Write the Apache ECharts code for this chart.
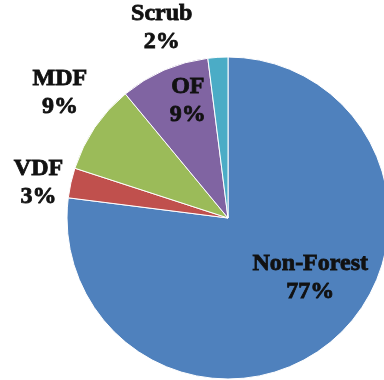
<!DOCTYPE html>
<html>
<head>
<meta charset="utf-8">
<script src="https://cdn.jsdelivr.net/npm/echarts@6/dist/echarts.min.js"></script>
<style>
  html, body { margin: 0; padding: 0; background: #ffffff; }
  #chart { width: 384px; height: 380px; }
</style>
</head>
<body>
<div id="chart"></div>
<script>
// Land cover share (%)
const categories = ['Non-Forest', 'VDF', 'MDF', 'OF', 'Scrub'];
const shares = [77, 3, 9, 9, 2];
const sliceColors = ['#4F81BD', '#C0504D', '#9BBB59', '#8064A2', '#4BACC6'];
// Label nudges from the mid-radius anchor of each slice
const labelDx = [27, -108, -99, -7, -61];
const labelDy = [-3, -17, -78, -41, -107];

const chart = echarts.init(document.getElementById('chart'), null, { renderer: 'canvas' });

chart.setOption({
  animation: false,
  backgroundColor: '#ffffff',
  series: [{
    type: 'pie',
    center: [228, 218],
    radius: [0, 161],
    startAngle: 90,
    clockwise: true,
    avoidLabelOverlap: false,
    itemStyle: { borderColor: '#ffffff', borderWidth: 1 },
    label: {
      show: true,
      position: 'inside',
      formatter: p => p.name + '\n' + p.value + '%',
      fontFamily: 'Liberation Serif',
      fontWeight: 'bold',
      fontSize: 24,
      lineHeight: 28,
      color: '#111111',
      textBorderColor: '#111111',
      textBorderWidth: 0.8,
      align: 'center'
    },
    labelLine: { show: false },
    labelLayout: p => ({ dx: labelDx[p.dataIndex], dy: labelDy[p.dataIndex] }),
    data: categories.map((c, i) => ({
      name: c,
      value: shares[i],
      itemStyle: { color: sliceColors[i] }
    }))
  }]
});
</script>
</body>
</html>
